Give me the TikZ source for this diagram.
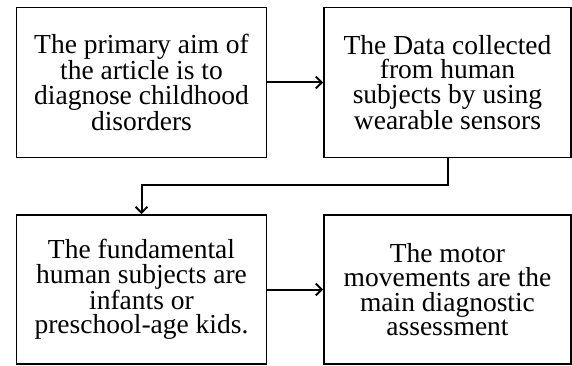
\documentclass[tikz,border=0pt]{standalone}
\usepackage{fontspec}
\setmainfont{Liberation Serif}
\usetikzlibrary{arrows.meta}

\tikzset{
    stagebox/.style={draw, line width=1.6pt, rectangle, align=center,
        minimum width=250pt, minimum height=150pt, inner sep=0pt,
        font=\fontsize{27.5}{24.5}\selectfont},
    link/.style={->, line width=2pt},
}

\begin{document}
\begin{tikzpicture}[x=1pt, y=1pt, >={Straight Barb[length=6pt,width=12pt,line width=2pt]}]
        \useasboundingbox (0,0) rectangle (572,-366);

        % Top row
        \node[stagebox] (aim) at (141.5,-82.5) {The primary aim of\\the article is to\\diagnose childhood\\disorders};
        \node[stagebox, minimum width=247pt] (data) at (447.5,-82.5) {The Data collected\\from human\\subjects by using\\wearable sensors};

        % Bottom row
        \node[stagebox, minimum height=149pt] (subjects) at (141.5,-289.5) {The fundamental\\human subjects are\\infants or\\preschool-age kids.};
        \node[stagebox, minimum width=247pt, minimum height=149pt] (motor) at (447.5,-289.5) {The motor\\movements are the\\main diagnostic\\assessment};

        % Connectors
        \draw[link] (aim) -- (data);
        \draw[link] (data.south) -- ++(0,-27) -| (subjects.north);
        \draw[link] (subjects) -- (motor);
    \end{tikzpicture}
\end{document}
